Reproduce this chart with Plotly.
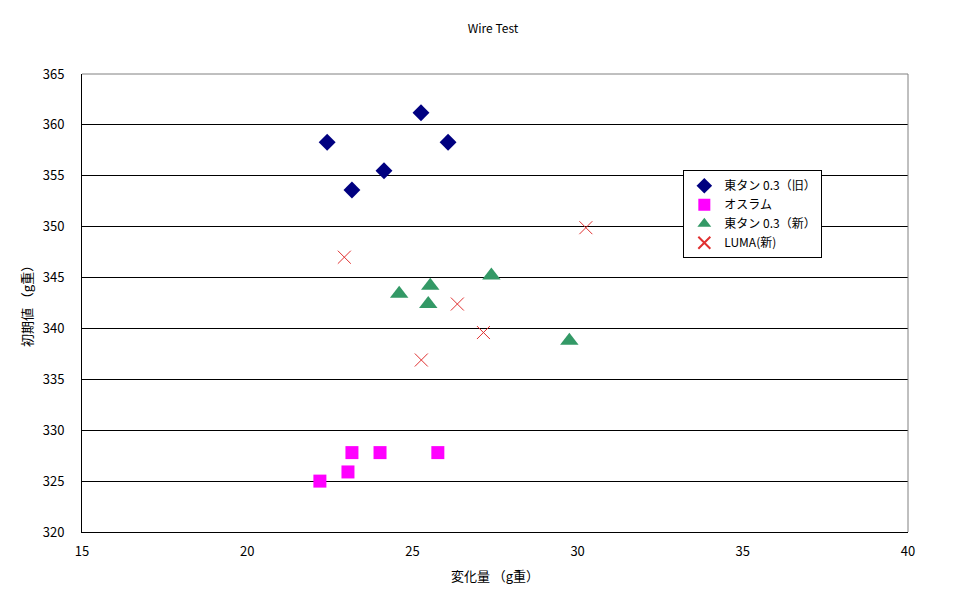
import plotly.graph_objects as go

# Data
old_x = [22.42, 25.26, 26.08, 24.14, 23.17]
old_y = [358.3, 361.2, 358.3, 355.5, 353.6]

osram_x = [22.2, 23.05, 23.17, 24.02, 25.77]
osram_y = [325.0, 325.9, 327.8, 327.8, 327.8]

new_x = [24.6, 25.54, 25.48, 27.39, 29.75]
new_y = [343.4, 344.2, 342.4, 345.2, 338.8]

luma_x = [22.94, 26.36, 27.15, 25.27, 30.25]
luma_y = [347.0, 342.4, 339.6, 336.9, 349.9]

series_names = ["東タン 0.3（旧）", "オスラム", "東タン 0.3（新）", "LUMA(新)"]

FONT = "Noto Sans CJK JP"

fig = go.Figure()
fig.add_trace(go.Scatter(x=old_x, y=old_y, mode="markers", name=series_names[0],
                         marker=dict(symbol="diamond", size=13, color="#000080")))
fig.add_trace(go.Scatter(x=osram_x, y=osram_y, mode="markers", name=series_names[1],
                         marker=dict(symbol="square", size=13, color="#FF00FF")))
fig.add_trace(go.Scatter(x=new_x, y=new_y, mode="markers", name=series_names[2],
                         marker=dict(symbol="triangle-up", size=16, color="#339966")))
fig.add_trace(go.Scatter(x=luma_x, y=luma_y, mode="markers", name=series_names[3],
                         marker=dict(symbol="x-thin-open", size=13, color="#E03030",
                                     line=dict(width=1, color="#E03030"))))

fig.update_layout(
    width=970, height=603,
    margin=dict(l=74, r=70, t=66, b=79),
    paper_bgcolor="white", plot_bgcolor="white",
    font=dict(family=FONT, size=13, color="black"),
    title=dict(text="Wire Test", x=0.5, xanchor="center", y=0.965, yanchor="middle",
               font=dict(family=FONT, size=12, color="black")),
    showlegend=True,
    legend=dict(x=0.728, y=0.79, xanchor="left", yanchor="top",
                bgcolor="white", bordercolor="black", borderwidth=1,
                font=dict(family=FONT, size=12), itemsizing="constant",
                tracegroupgap=0, itemwidth=30),
    xaxis=dict(range=[15, 40], dtick=5, showgrid=False, zeroline=False,
               showline=True, linecolor="black", linewidth=1,
               ticks="outside", ticklen=7, tickcolor="white", tickfont=dict(size=13),
               title=dict(text="変化量 （g重）", font=dict(size=13), standoff=13)),
    yaxis=dict(range=[320, 365], dtick=5, showgrid=True, gridcolor="black", gridwidth=1,
               zeroline=False, showline=True, linecolor="black", linewidth=1,
               ticks="outside", ticklen=14, tickcolor="white", tickfont=dict(size=13),
               title=dict(text="初期値 （g重）", font=dict(size=13), standoff=7)),
    shapes=[
        dict(type="line", xref="paper", yref="paper", x0=0, x1=1, y0=1, y1=1,
             line=dict(color="#808080", width=1)),
        dict(type="line", xref="paper", yref="paper", x0=1, x1=1, y0=0, y1=1,
             line=dict(color="#808080", width=1)),
    ],
)

fig.write_html("out.html")
